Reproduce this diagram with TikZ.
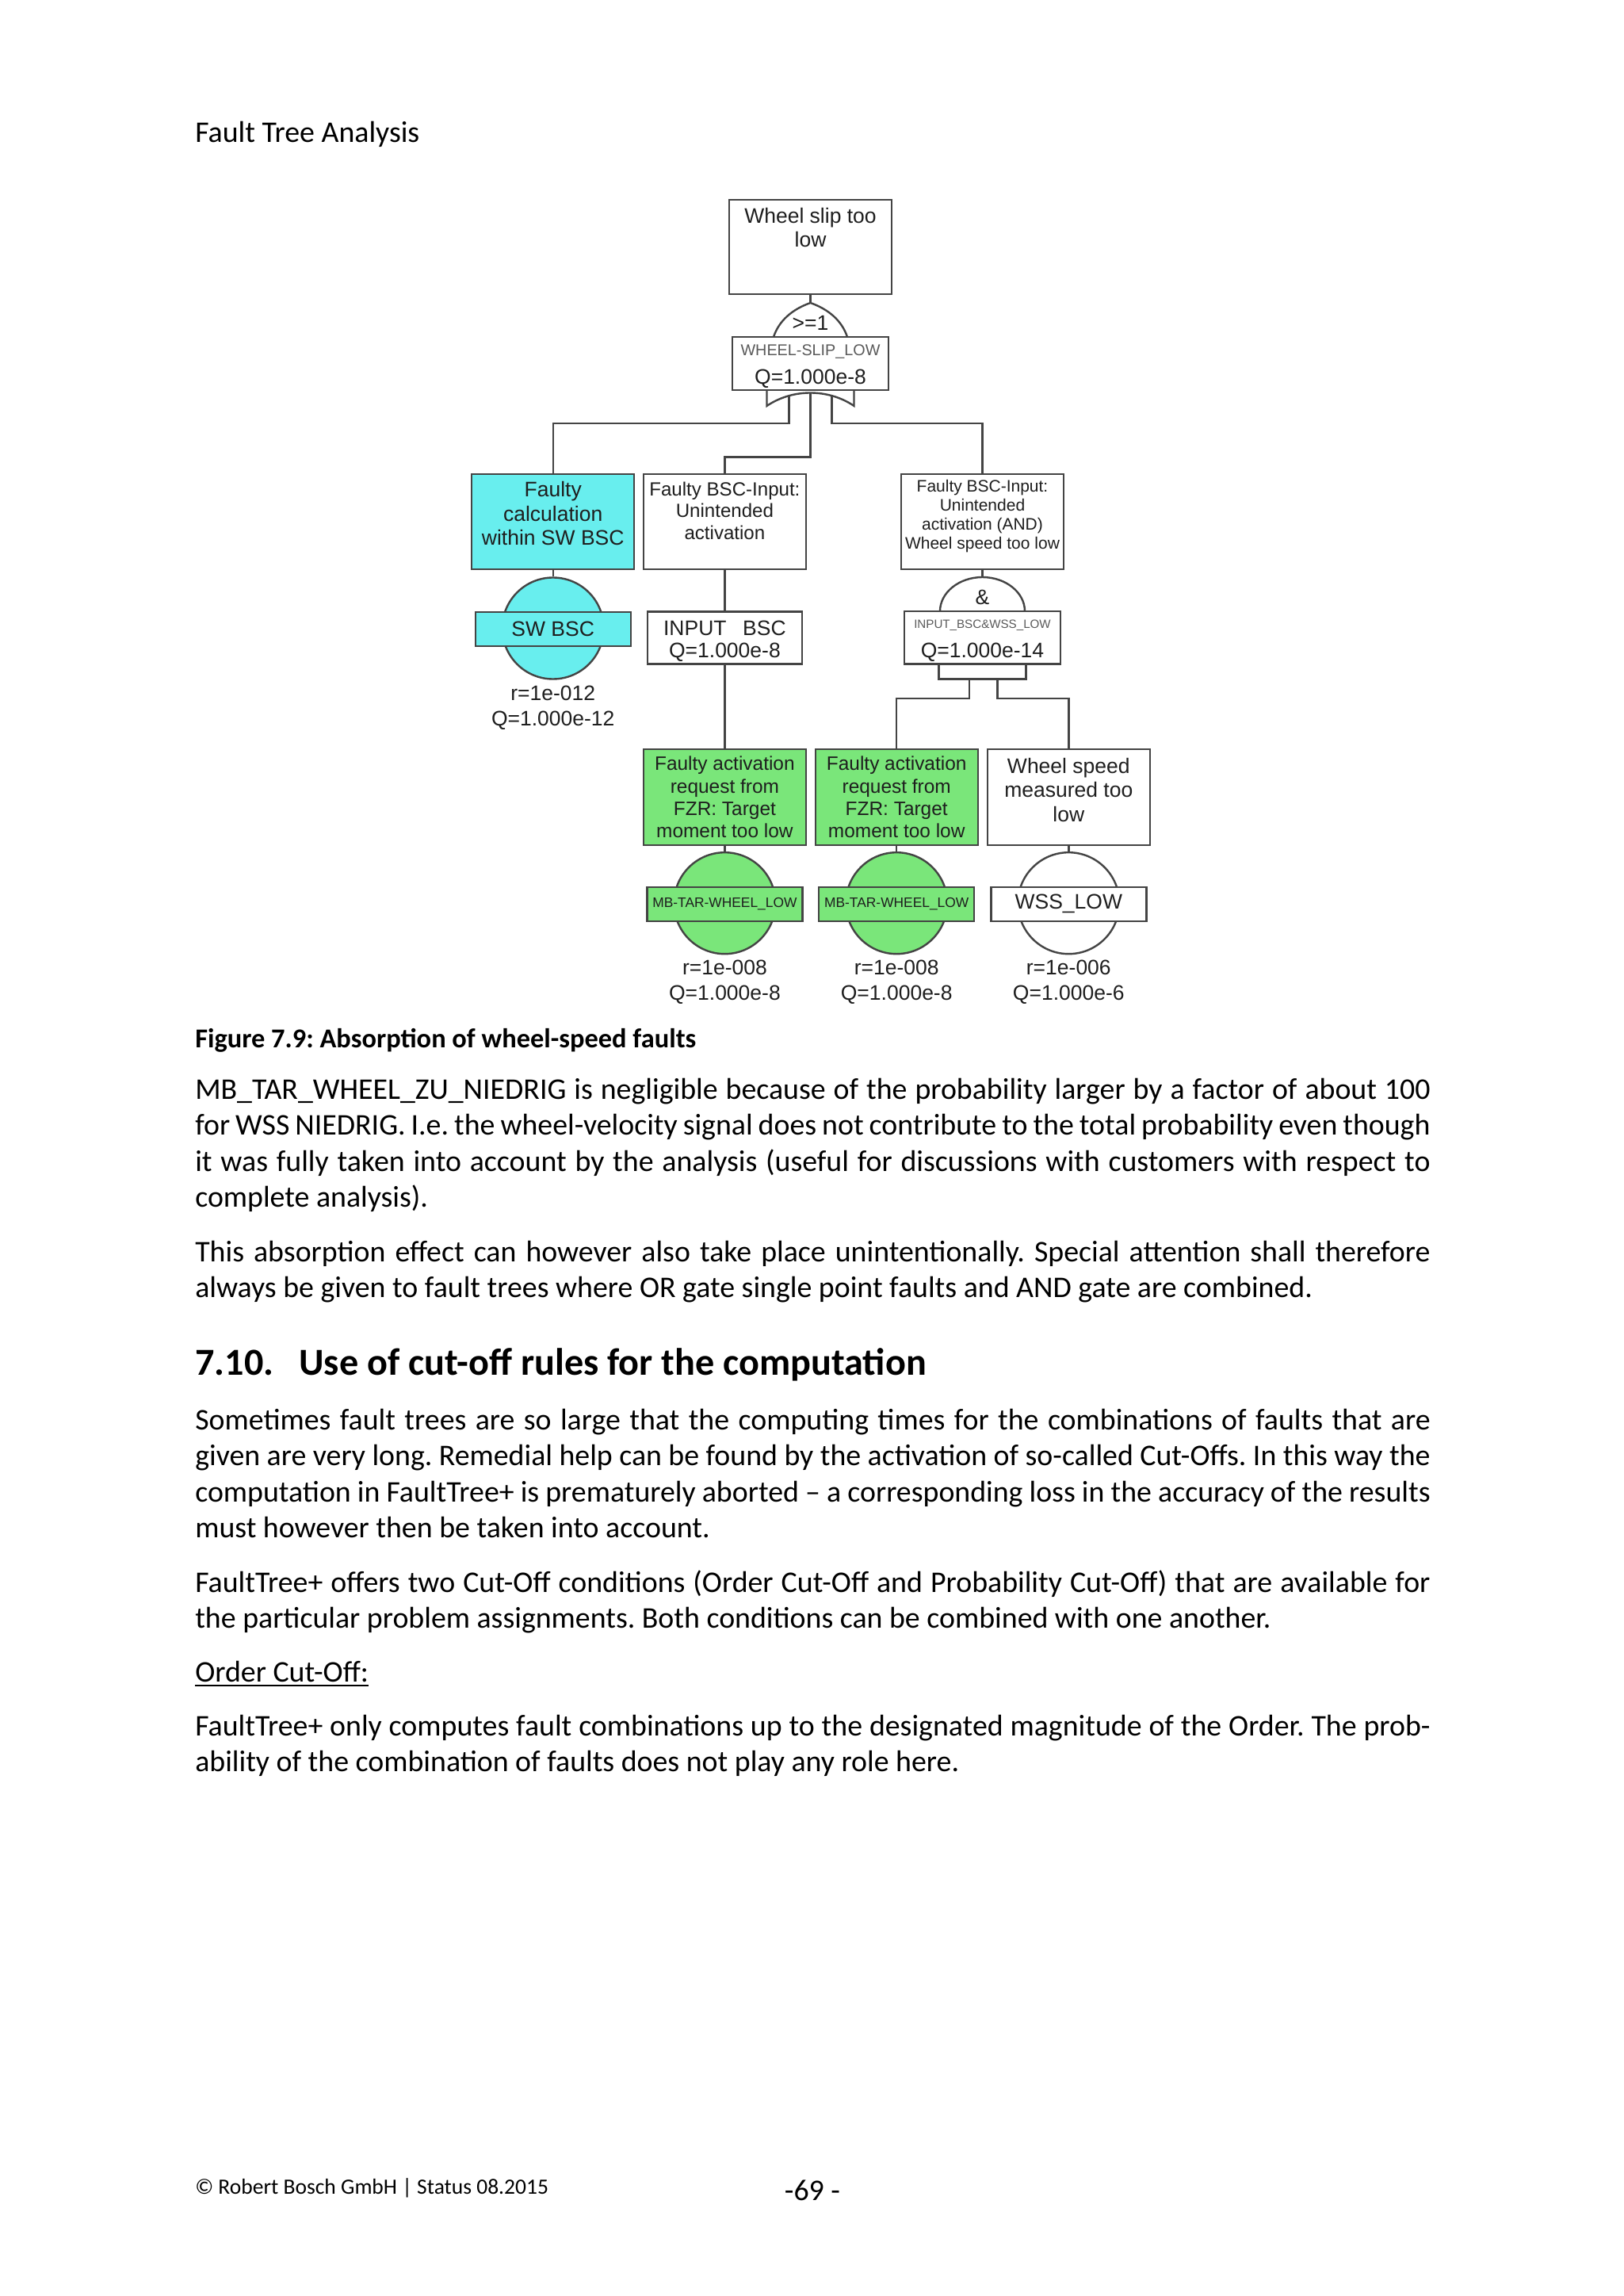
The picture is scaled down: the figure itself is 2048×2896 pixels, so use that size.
\documentclass[tikz,border=0pt]{standalone}
\usepackage{fontspec}
\setmainfont{Carlito}
\newfontfamily\arialf{Liberation Sans}
\definecolor{lncol}{RGB}{68,68,68}
\definecolor{cyanfill}{RGB}{104,238,238}
\definecolor{greenfill}{RGB}{122,230,122}
\definecolor{txtdark}{RGB}{30,30,30}
\definecolor{txtgrey}{RGB}{90,90,90}
\hyphenpenalty=10000
\exhyphenpenalty=10000
\tolerance=10000
\pretolerance=-1
\frenchspacing
% box text: width, height, first baseline, size, skip, text
\newcommand\ftxt[6]{\parbox[c][#2][t]{#1}{\centering\fontsize{#4}{#5}\selectfont\rule{0pt}{#3}\ignorespaces#6\par}}
% label box: width, height, first baseline, first line (with font), skip, second line
\newcommand\lblbox[6]{\parbox[c][#2][t]{#1}{\centering{\rule{0pt}{#3}#4\par}{\fontsize{7.7}{#5}\selectfont #6\par}}}
\begin{document}
\begin{tikzpicture}[x=0.2906pt,y=-0.2906pt,
  ln/.style={draw=lncol,line width=0.7pt},
  evbox/.style={ln,rectangle,inner sep=0pt,fill=white},
  evrect/.style={ln,rectangle,inner sep=0pt,minimum width=56.96pt,minimum height=12.5pt},
  basic/.style={ln,circle,inner sep=0pt,minimum size=37.2pt},
  rq/.style={anchor=base,inner sep=0pt,text width=62pt,align=center,font=\arialf\fontsize{7.7}{9.4}\selectfont,text=txtdark},
  body/.style={anchor=base west,inner sep=0pt,text width=452.9pt,align=justify,font=\fontsize{11}{13.25}\selectfont},
  every node/.style={text=txtdark}
]
\useasboundingbox (0,0) rectangle (2048,2896);
\fill[white] (0,0) rectangle (2048,2896);

% ---------- page text ----------
\node[anchor=base west,inner sep=0pt,font=\fontsize{11}{13.25}\selectfont,text=black] (hdr) at (245.6,180) {Fault Tree Analysis};

\begin{scope}[every node/.append style={font=\arialf\fontsize{7.7}{9}\selectfont}]
% ---------- top event ----------
\node[evbox] (top) at (1022.5,311.5) {\ftxt{59.57pt}{34.6pt}{8.7pt}{7.7}{8.7}{Wheel slip too\\low}};
\node[evbox] (orlab) at (1022.5,458.5) {\lblbox{57.25pt}{19.47pt}{6.9pt}{\fontsize{5.75}{6.5}\selectfont\color{txtgrey}WHEEL-SLIP\_LOW}{10.3}{Q=1.000e-8}};
\coordinate (orapex) at (1022.5,382);
\draw[ln] (976,425) .. controls (983,404) and (1000,390) .. (orapex) .. controls (1045,390) and (1062,404) .. (1069,425);
\draw[ln] (top.south) -- (orapex);
\node[anchor=base,inner sep=0pt] (orsym) at (1022.5,416.7) {>=1};
\draw[ln] (967.5,492) -- (967.5,512) .. controls (1000,490) and (1045,490) .. (1077.5,512) -- (1077.5,492);
\coordinate (or1) at (995.5,499.1);
\coordinate (or2) at (1022.5,495.5);
\coordinate (or3) at (1049.5,499.1);

% ---------- second row ----------
\node[evbox,fill=cyanfill] (cyanbox) at (697.7,658) {\ftxt{59.57pt}{34.87pt}{8.34pt}{7.7}{8.86}{Faulty\\calculation\\within SW BSC}};
\node[evbox] (box2) at (914.4,658) {\ftxt{59.57pt}{34.87pt}{7.85pt}{7.0}{8.0}{Faulty BSC-Input:\\Unintended\\activation}};
\node[evbox] (box3) at (1239.5,658) {\ftxt{59.57pt}{34.87pt}{6.4pt}{6.1}{7.06}{Faulty BSC-Input:\\Unintended\\activation (AND)\\Wheel speed too low}};

\draw[ln] (or1) -- ++(0,35) -| (cyanbox.north);
\draw[ln] (or2) -- ++(0,81.2) -| (box2.north);
\draw[ln] (or3) -- ++(0,35) -| (box3.north);

% SW BSC basic event
\node[basic,fill=cyanfill] (c1) at (697.7,792.5) {};
\node[evrect,fill=cyanfill] (swr) at (697.7,793.3) {SW BSC};
\draw[ln] (cyanbox.south) -- (c1.north);
\node[rq] (rq1) at (697.7,883) {r=1e-012\\Q=1.000e-12};

% INPUT BSC transfer box
\node[evbox] (inbsc) at (914.4,804.7) {\lblbox{56.67pt}{19.18pt}{8.72pt}{\fontsize{7.7}{9}\selectfont INPUT\hspace{6pt}BSC}{8.22}{Q=1.000e-8}};
\draw[ln] (box2.south) -- (inbsc.north);

% AND gate
\node[evbox] (andlab) at (1239.5,804.3) {\lblbox{57.25pt}{19.38pt}{6.3pt}{\fontsize{4.4}{5}\selectfont\color{txtgrey}INPUT\_BSC\&WSS\_LOW}{10.84}{Q=1.000e-14}};
\coordinate (andtop) at (1239.5,728);
\draw[ln] (1186,771) .. controls (1186,747.3) and (1210.1,728) .. (andtop) .. controls (1268.9,728) and (1293,747.3) .. (1293,771);
\draw[ln] (box3.south) -- (andtop);
\node[anchor=base,inner sep=0pt] (andsym) at (1239.5,763) {\&};
\draw[ln] (1184.5,837.7) -- (1184.5,856.7) -- (1294.5,856.7) -- (1294.5,837.7);
\coordinate (and1) at (1222.7,856.7);
\coordinate (and2) at (1258.3,856.7);

% ---------- third row ----------
\node[evbox,fill=greenfill] (green1) at (914.4,1005.4) {\ftxt{59.57pt}{35.07pt}{7.76pt}{7.1}{8.22}{Faulty activation\\request from\\FZR: Target\\moment too low}};
\node[evbox,fill=greenfill] (green2) at (1131.2,1005.4) {\ftxt{59.57pt}{35.07pt}{7.76pt}{7.1}{8.22}{Faulty activation\\request from\\FZR: Target\\moment too low}};
\node[evbox] (wss) at (1348.3,1005.4) {\ftxt{59.57pt}{35.07pt}{8.72pt}{7.7}{8.86}{Wheel speed\\measured too\\low}};

\draw[ln] (inbsc.south) -- (green1.north);
\draw[ln] (and1) -- ++(0,24.3) -| (green2.north);
\draw[ln] (and2) -- ++(0,24.3) -| (wss.north);

\node[basic,fill=greenfill] (c2) at (914.4,1139.2) {};
\node[evrect,fill=greenfill,font=\arialf\fontsize{5.05}{6}\selectfont] (mb1) at (914.4,1140.3) {MB-TAR-WHEEL\_LOW};
\draw[ln] (green1.south) -- (c2.north);
\node[rq] (rq2) at (914.4,1229) {r=1e-008\\Q=1.000e-8};

\node[basic,fill=greenfill] (c3) at (1131.2,1139.2) {};
\node[evrect,fill=greenfill,font=\arialf\fontsize{5.05}{6}\selectfont] (mb2) at (1131.2,1140.3) {MB-TAR-WHEEL\_LOW};
\draw[ln] (green2.south) -- (c3.north);
\node[rq] (rq3) at (1131.2,1229) {r=1e-008\\Q=1.000e-8};

\node[basic,fill=white] (c4) at (1348.3,1139.2) {};
\node[evrect,fill=white] (wssr) at (1348.3,1140.3) {WSS\_LOW};
\draw[ln] (wss.south) -- (c4.north);
\node[rq] (rq4) at (1348.3,1229) {r=1e-006\\Q=1.000e-6};
\end{scope}

% ---------- caption and body ----------
\node[anchor=base west,inner sep=0pt,font=\bfseries\fontsize{10}{12}\selectfont,text=black] (cap) at (245.6,1321) {Figure 7.9: Absorption of wheel-speed faults};

\node[body,text=black] (p1) at (245.6,1386) {MB\_TAR\_WHEEL\_ZU\_NIEDRIG is negligible because of the probability larger by a factor of about 100\linebreak for WSS NIEDRIG. I.e. the wheel-velocity signal does not contribute to the total probability even though\linebreak it was fully taken into account by the analysis (useful for discussions with customers with respect to\linebreak complete analysis).};

\node[body,text=black] (p2) at (245.6,1591) {This absorption effect can however also take place unintentionally. Special attention shall therefore\linebreak always be given to fault trees where OR gate single point faults and AND gate are combined.};

\node[anchor=base west,inner sep=0pt,font=\bfseries\fontsize{14}{17}\selectfont,text=black] (h710) at (245.6,1734) {\makebox[38.1pt][l]{7.10.}Use of cut-off rules for the computation};

\node[body,text=black] (p3) at (245.6,1803) {Sometimes fault trees are so large that the computing times for the combinations of faults that are\linebreak given are very long. Remedial help can be found by the activation of so-called Cut-Offs. In this way the\linebreak computation in FaultTree+ is prematurely aborted – a corresponding loss in the accuracy of the results\linebreak must however then be taken into account.};

\node[body,text=black] (p4) at (245.6,2008) {FaultTree+ offers two Cut-Off conditions (Order Cut-Off and Probability Cut-Off) that are available for\linebreak the particular problem assignments. Both conditions can be combined with one another.};

\node[anchor=base west,inner sep=0pt,font=\fontsize{11}{13.25}\selectfont,text=black] (occ) at (245.6,2121) {\underline{Order Cut-Off:}};

\node[body,text=black] (p5) at (245.6,2189) {FaultTree+ only computes fault combinations up to the designated magnitude of the Order. The prob-\linebreak ability of the combination of faults does not play any role here.};

% ---------- footer ----------
\node[anchor=base west,inner sep=0pt,font=\fontsize{8}{10}\selectfont,text=black] (foot) at (245.6,2767) {© Robert Bosch GmbH | Status 08.2015};
\node[anchor=base,inner sep=0pt,font=\fontsize{11}{13}\selectfont,text=black] (pgnum) at (1025,2775) {-69 -};
\end{tikzpicture}
\end{document}
